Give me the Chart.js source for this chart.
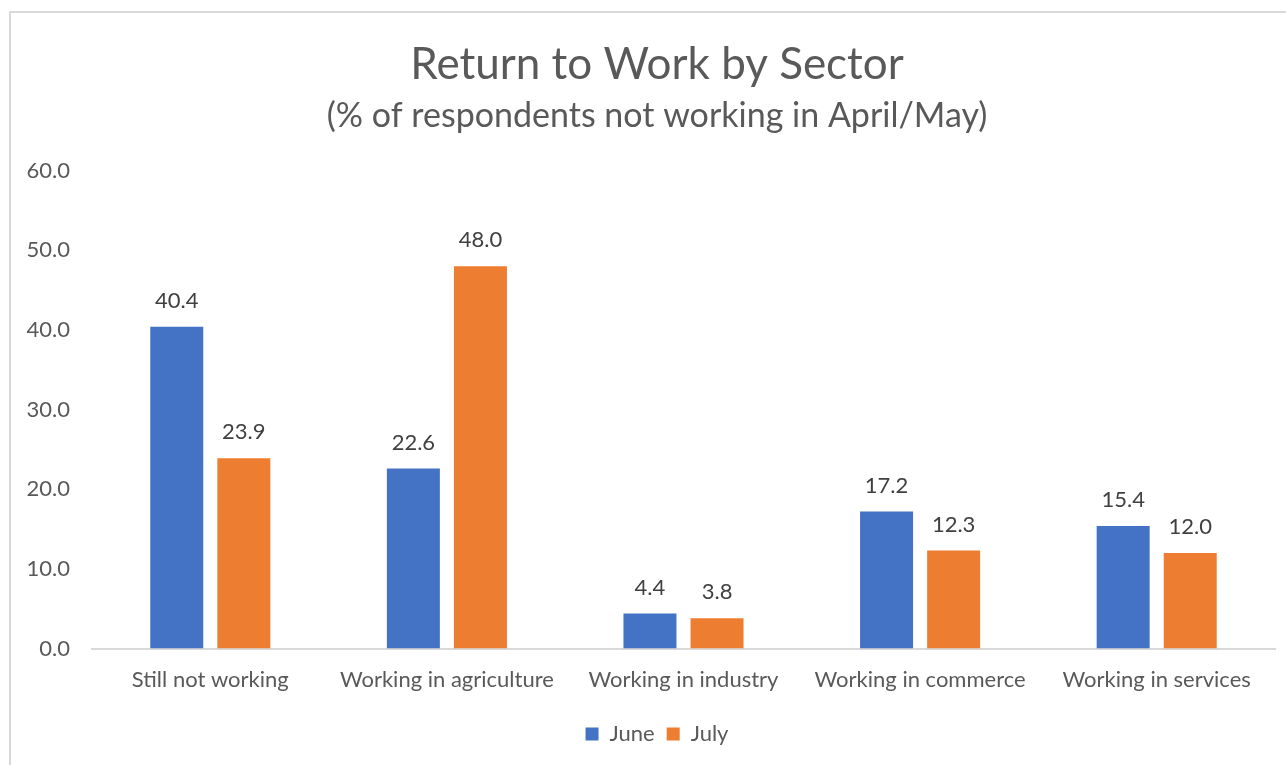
<!DOCTYPE html>
<html>
<head>
<meta charset="utf-8">
<script src="https://cdn.jsdelivr.net/npm/chart.js@4"></script>
<style>
  body { margin: 0; background: #fff; overflow: hidden; }
  #frame { position: absolute; left: 9px; top: 11px; width: 1300px; height: 800px; border: 2px solid #d9d9d9; }
  #wrap { position: absolute; left: 0; top: 0; width: 1286px; height: 765px; }
</style>
</head>
<body>
<div id="frame"></div>
<div id="wrap"><canvas id="sectorChart" width="1286" height="765"></canvas></div>
<script>
// Chart data
const categories = ['Still not working', 'Working in agriculture', 'Working in industry', 'Working in commerce', 'Working in services'];
const juneValues = [40.4, 22.6, 4.4, 17.2, 15.4];
const julyValues = [23.9, 48.0, 3.8, 12.3, 12.0];
const yTicks = [0, 10, 20, 30, 40, 50, 60];

const textColor = '#595959';
const fontFamily = 'Lato, "Open Sans", sans-serif';

// Draw value labels above each bar
const barLabels = {
  id: 'barLabels',
  afterDatasetsDraw(chart) {
    const ctx = chart.ctx;
    ctx.save();
    ctx.font = '22px ' + fontFamily;
    ctx.fillStyle = '#404040';
    ctx.textAlign = 'center';
    ctx.textBaseline = 'alphabetic';
    chart.data.datasets.forEach((ds, i) => {
      chart.getDatasetMeta(i).data.forEach((bar, j) => {
        ctx.fillText(ds.data[j].toFixed(1), bar.x, bar.y - 19);
      });
    });
    ctx.restore();
  }
};

const ctx = document.getElementById('sectorChart').getContext('2d');
const sectorChart = new Chart(ctx, {
  type: 'bar',
  data: {
    labels: categories,
    datasets: [
      { label: 'June', data: juneValues, backgroundColor: '#4472C4' },
      { label: 'July', data: julyValues, backgroundColor: '#ED7D31' }
    ]
  },
  options: {
    responsive: false,
    animation: false,
    // left padding pushes the title right, like the original
    layout: { padding: { left: 39, right: 11, top: 0, bottom: 10 } },
    datasets: { bar: { categoryPercentage: 0.567, barPercentage: 0.79 } },
    plugins: {
      title: {
        display: true,
        text: 'Return to Work by Sector',
        color: textColor,
        font: { family: fontFamily, size: 44, weight: 'normal' },
        padding: { top: 38, bottom: 5 }
      },
      subtitle: {
        display: true,
        text: '(% of respondents not working in April/May)',
        color: textColor,
        font: { family: fontFamily, size: 34, weight: 'normal' },
        padding: { top: 0, bottom: 34 }
      },
      legend: {
        position: 'bottom',
        labels: {
          color: textColor,
          font: { family: fontFamily, size: 22 },
          boxWidth: 13,
          boxHeight: 13,
          padding: 12
        }
      },
      tooltip: { enabled: false }
    },
    scales: {
      x: {
        afterFit(scale) { scale.height += 8; },
        grid: { display: false },
        border: { display: true, color: '#d9d9d9', width: 2 },
        ticks: { color: textColor, font: { family: fontFamily, size: 22 }, padding: 10, maxRotation: 0 }
      },
      y: {
        min: yTicks[0],
        max: yTicks[yTicks.length - 1],
        afterFit(scale) {
          scale.width = 53;
          scale._computeLabelArea = () => undefined; // don't clip the tick labels to the narrow axis
        },
        afterBuildTicks(scale) { scale.ticks = yTicks.map(v => ({ value: v })); },
        grid: { display: false },
        border: { display: false },
        ticks: {
          color: textColor,
          font: { family: fontFamily, size: 22 },
          padding: 14,
          callback: v => v.toFixed(1)
        }
      }
    }
  },
  plugins: [barLabels]
});
</script>
</body>
</html>
